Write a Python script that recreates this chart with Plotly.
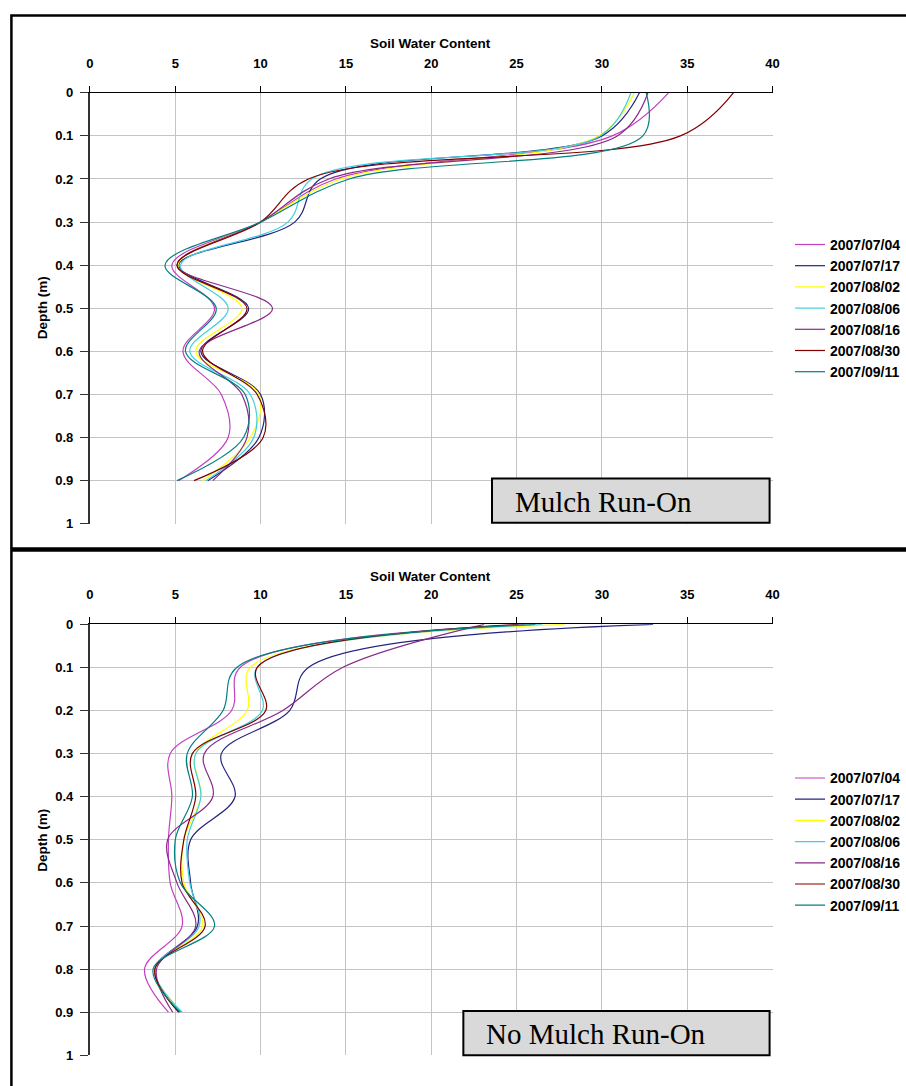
import plotly.graph_objects as go

W, H = 906, 1086

# Depth below surface (m) at which each profile was measured
depths = [0.0, 0.1, 0.2, 0.3, 0.4, 0.5, 0.6, 0.7, 0.8, 0.9]

dates = ["2007/07/04", "2007/07/17", "2007/08/02", "2007/08/06",
         "2007/08/16", "2007/08/30", "2007/09/11"]
colors = ["#C23FC2", "#23237F", "#FFFF00", "#3FCFE0",
          "#8A2A8A", "#800000", "#008080"]

# Soil water content profiles, mulch run-on plot
mulch_0704 = [33.9, 30.6, 14.4, 10.0, 4.8, 7.3, 5.45, 7.7, 8.1, 5.2]
mulch_0717 = [32.2, 30.0, 13.5, 12.0, 5.2, 9.3, 6.5, 10.0, 9.9, 6.9]
mulch_0802 = [31.9, 29.8, 14.7, 10.0, 5.15, 8.9, 6.2, 9.9, 9.4, 6.6]
mulch_0806 = [31.7, 29.9, 13.0, 11.6, 5.3, 8.1, 5.85, 9.4, 9.6, 6.8]
mulch_0816 = [32.7, 30.9, 14.0, 10.0, 5.1, 10.7, 6.4, 8.9, 9.2, 7.2]
mulch_0830 = [37.7, 34.6, 12.8, 10.0, 5.1, 9.2, 6.6, 9.8, 10.15, 6.1]
mulch_0911 = [32.6, 32.4, 15.2, 10.0, 4.4, 7.4, 5.6, 9.1, 9.0, 5.1]

# Soil water content profiles, no-mulch run-on plot
bare_0704 = [25.5, 8.8, 8.3, 4.7, 4.8, 4.6, 4.7, 5.4, 3.2, 4.6]
bare_0717 = [33.0, 12.8, 11.7, 7.7, 8.5, 5.9, 5.9, 6.3, 3.8, 5.2]
bare_0802 = [27.8, 9.4, 9.2, 6.2, 6.5, 5.5, 5.5, 6.6, 3.8, 5.4]
bare_0806 = [26.5, 9.8, 10.1, 6.2, 6.5, 5.7, 5.85, 6.4, 3.8, 5.4]
bare_0816 = [23.1, 14.8, 11.3, 6.7, 7.2, 4.55, 5.1, 6.2, 3.9, 4.85]
bare_0830 = [25.1, 9.8, 10.3, 6.0, 6.2, 5.5, 5.4, 6.75, 3.8, 5.2]
bare_0911 = [26.1, 8.6, 7.8, 5.7, 6.0, 5.0, 5.3, 7.3, 3.7, 5.3]

mulch_series = [mulch_0704, mulch_0717, mulch_0802, mulch_0806,
                mulch_0816, mulch_0830, mulch_0911]
bare_series = [bare_0704, bare_0717, bare_0802, bare_0806,
               bare_0816, bare_0830, bare_0911]

SANS = "Liberation Sans, Arial, sans-serif"
SERIF = "Liberation Serif, Times New Roman, serif"


def px(xp):
    return xp / W


def py(yp):
    return 1 - yp / H


fig = go.Figure()

for name, col, vals in zip(dates, colors, mulch_series):
    fig.add_trace(go.Scatter(
        x=vals, y=depths, name=name, mode="lines",
        line=dict(color=col, width=1.2, shape="spline", smoothing=1.0),
        xaxis="x", yaxis="y", legend="legend"))

for name, col, vals in zip(dates, colors, bare_series):
    fig.add_trace(go.Scatter(
        x=vals, y=depths, name=name, mode="lines",
        line=dict(color=col, width=1.2, shape="spline", smoothing=1.0),
        xaxis="x2", yaxis="y2", legend="legend2"))

tick_font = dict(family=SANS, size=13, color="black", weight="bold")

xcommon = dict(range=[0, 40], dtick=5, side="top", showgrid=True,
               gridcolor="#C4C4C4", gridwidth=1, zeroline=False,
               showline=True, linecolor="black", linewidth=1,
               ticks="outside", ticklen=6, tickcolor="black",
               ticklabelstandoff=13, tickfont=tick_font,
               domain=[px(87), px(778)], fixedrange=True)
ycommon = dict(range=[1, 0], dtick=0.1, showgrid=True,
               gridcolor="#C4C4C4", gridwidth=1, zeroline=False,
               showline=True, linecolor="#333333", linewidth=2,
               ticks="outside", ticklen=8, tickcolor="#333333",
               ticklabelstandoff=4, tickfont=tick_font, fixedrange=True)

legend_common = dict(xanchor="left", yanchor="top", bgcolor="rgba(0,0,0,0)",
                     font=dict(family=SANS, size=14, color="black", weight="bold"),
                     itemwidth=30, tracegroupgap=0)

fig.update_layout(
    width=W, height=H,
    margin=dict(l=0, r=0, t=0, b=0),
    paper_bgcolor="white", plot_bgcolor="white",
    xaxis=dict(xcommon, anchor="y"),
    yaxis=dict(ycommon, anchor="x", domain=[py(524), py(87)]),
    xaxis2=dict(xcommon, anchor="y2"),
    yaxis2=dict(ycommon, anchor="x2", domain=[py(1063), py(626)]),
    legend=dict(legend_common, x=px(796), y=py(225)),
    legend2=dict(legend_common, x=px(796), y=py(766)),
    showlegend=True,
)

# Outer frame and the rule separating the two panels
fig.add_shape(type="rect", xref="paper", yref="paper",
              x0=px(7.5), x1=1.02, y0=-0.02, y1=py(8.5),
              line=dict(color="black", width=2.5), layer="above")
fig.add_shape(type="line", xref="paper", yref="paper",
              x0=px(7), x1=1.02, y0=py(550), y1=py(550),
              line=dict(color="black", width=4.5), layer="above")

# Panel captions in grey boxes
boxes = [("Mulch Run-On", 494, 775, 478, 523, 515),
         ("No Mulch Run-On", 465, 775, 1018, 1063, 486)]
for text, x0, x1, y0, y1, tx in boxes:
    fig.add_shape(type="rect", xref="paper", yref="paper",
                  x0=px(x0), x1=px(x1), y0=py(y1), y1=py(y0),
                  fillcolor="#D9D9D9", line=dict(color="black", width=2),
                  layer="above")
    fig.add_annotation(text=text, xref="paper", yref="paper",
                       x=px(tx), y=py((y0 + y1) / 2 + 1), xanchor="left",
                       yanchor="middle", showarrow=False,
                       font=dict(family=SERIF, size=29, color="black"))

# Axis titles
for ty, dy in [(37, 305), (577, 845)]:
    fig.add_annotation(text="Soil Water Content", xref="paper", yref="paper",
                       x=px(432), y=py(ty), xanchor="center", yanchor="middle",
                       showarrow=False,
                       font=dict(family=SANS, size=13.5, color="black", weight="bold"))
    fig.add_annotation(text="Depth (m)", xref="paper", yref="paper",
                       x=px(39), y=py(dy), xanchor="center", yanchor="middle",
                       textangle=-90, showarrow=False,
                       font=dict(family=SANS, size=13.5, color="black", weight="bold"))

fig.write_html("out.html")
